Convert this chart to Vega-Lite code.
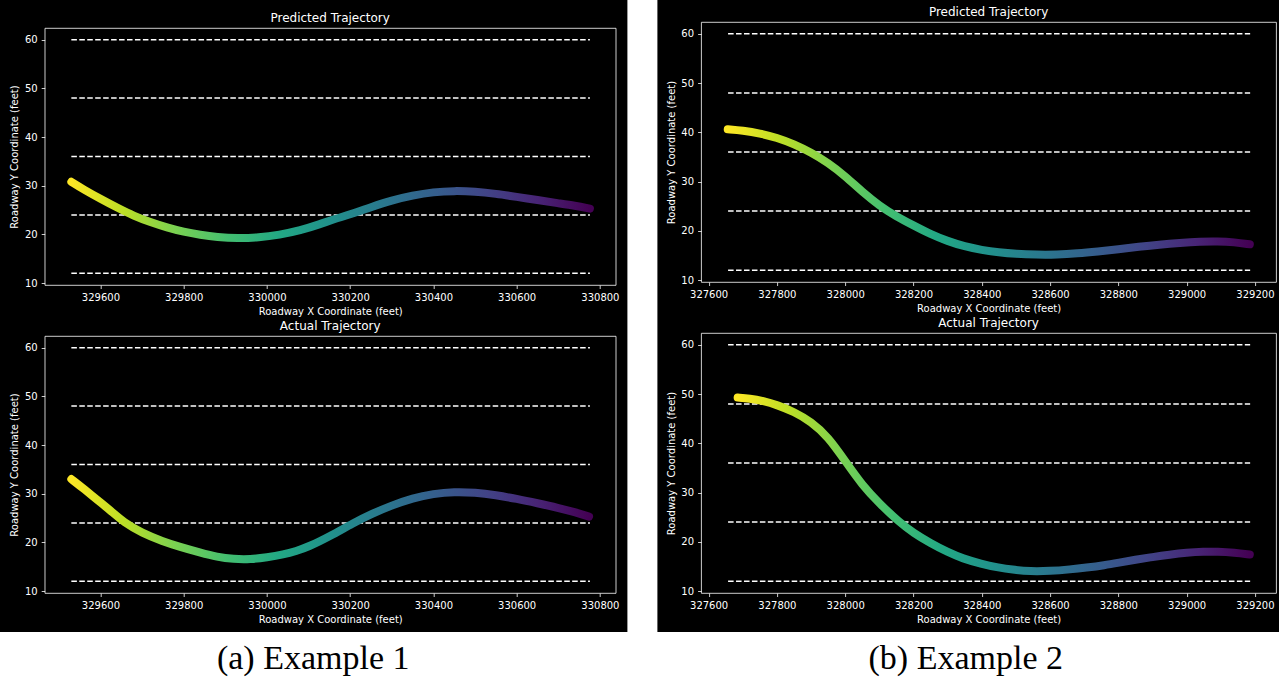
{
  "$schema": "https://vega.github.io/schema/vega-lite/v6.json",
  "background": "black",
  "padding": 0,
  "config": {
    "view": {"stroke": "white", "strokeWidth": 0.8},
    "axis": {"domain": false, "tickColor": "white", "tickWidth": 0.8, "tickSize": 3.5, "labelColor": "white", "labelFont": "DejaVu Sans", "labelFontSize": 10, "labelPadding": 4, "titleColor": "white", "titleFont": "DejaVu Sans", "titleFontSize": 10, "titleFontWeight": "normal", "grid": false, "labelFlush": false, "labelOverlap": false},
    "axisX": {"titlePadding": 4},
    "title": {"color": "white", "font": "DejaVu Sans", "fontSize": 12, "fontWeight": "normal", "offset": 3, "anchor": "middle"}
  },
  "datasets": {
    "lanesA": [
      {"x": 329530, "x2": 330776, "y": 12},
      {"x": 329530, "x2": 330776, "y": 24},
      {"x": 329530, "x2": 330776, "y": 36},
      {"x": 329530, "x2": 330776, "y": 48},
      {"x": 329530, "x2": 330776, "y": 60}
    ],
    "lanesB": [
      {"x": 327657, "x2": 329186, "y": 12},
      {"x": 327657, "x2": 329186, "y": 24},
      {"x": 327657, "x2": 329186, "y": 36},
      {"x": 327657, "x2": 329186, "y": 48},
      {"x": 327657, "x2": 329186, "y": 60}
    ],
    "predA": [
      {"x": 329530, "y": 30.8}, {"x": 329560, "y": 29.2}, {"x": 329600, "y": 27.3}, {"x": 329640, "y": 25.5},
      {"x": 329680, "y": 23.8}, {"x": 329720, "y": 22.5}, {"x": 329760, "y": 21.4}, {"x": 329800, "y": 20.5},
      {"x": 329840, "y": 19.9}, {"x": 329880, "y": 19.45}, {"x": 329930, "y": 19.2}, {"x": 329980, "y": 19.35},
      {"x": 330030, "y": 19.9}, {"x": 330080, "y": 20.8}, {"x": 330128, "y": 22.1}, {"x": 330160, "y": 23.1},
      {"x": 330200, "y": 24.1}, {"x": 330250, "y": 25.6}, {"x": 330300, "y": 27.0}, {"x": 330350, "y": 28.0},
      {"x": 330400, "y": 28.7}, {"x": 330450, "y": 28.95}, {"x": 330500, "y": 28.8}, {"x": 330550, "y": 28.35},
      {"x": 330600, "y": 27.7}, {"x": 330650, "y": 27.05}, {"x": 330700, "y": 26.4}, {"x": 330740, "y": 25.9},
      {"x": 330776, "y": 25.3}
    ],
    "actA": [
      {"x": 329530, "y": 33.0}, {"x": 329560, "y": 31.0}, {"x": 329600, "y": 28.2}, {"x": 329630, "y": 26.1},
      {"x": 329655, "y": 24.2}, {"x": 329700, "y": 21.9}, {"x": 329750, "y": 20.2}, {"x": 329790, "y": 19.1},
      {"x": 329840, "y": 17.9}, {"x": 329880, "y": 17.0}, {"x": 329920, "y": 16.55}, {"x": 329960, "y": 16.5},
      {"x": 330000, "y": 16.9}, {"x": 330040, "y": 17.5}, {"x": 330070, "y": 18.2}, {"x": 330100, "y": 19.1},
      {"x": 330150, "y": 21.2}, {"x": 330208, "y": 24.0}, {"x": 330250, "y": 25.8}, {"x": 330300, "y": 27.6},
      {"x": 330350, "y": 29.1}, {"x": 330400, "y": 30.0}, {"x": 330450, "y": 30.4}, {"x": 330500, "y": 30.25},
      {"x": 330550, "y": 29.7}, {"x": 330600, "y": 28.95}, {"x": 330650, "y": 28.05}, {"x": 330700, "y": 27.1},
      {"x": 330740, "y": 26.2}, {"x": 330774, "y": 25.3}
    ],
    "predB": [
      {"x": 327656, "y": 40.6}, {"x": 327700, "y": 40.35}, {"x": 327750, "y": 39.8}, {"x": 327800, "y": 38.9},
      {"x": 327850, "y": 37.6}, {"x": 327900, "y": 35.9}, {"x": 327950, "y": 33.8}, {"x": 328000, "y": 31.1},
      {"x": 328050, "y": 27.9}, {"x": 328100, "y": 25.1}, {"x": 328150, "y": 22.9}, {"x": 328200, "y": 21.1},
      {"x": 328250, "y": 19.3}, {"x": 328300, "y": 17.9}, {"x": 328350, "y": 16.8}, {"x": 328400, "y": 16.1},
      {"x": 328450, "y": 15.6}, {"x": 328500, "y": 15.3}, {"x": 328560, "y": 15.15}, {"x": 328620, "y": 15.15},
      {"x": 328680, "y": 15.4}, {"x": 328740, "y": 15.8}, {"x": 328800, "y": 16.25}, {"x": 328860, "y": 16.75},
      {"x": 328920, "y": 17.2}, {"x": 328980, "y": 17.55}, {"x": 329040, "y": 17.8}, {"x": 329090, "y": 17.85},
      {"x": 329140, "y": 17.7}, {"x": 329185, "y": 17.25}
    ],
    "actB": [
      {"x": 327685, "y": 49.3}, {"x": 327720, "y": 49.1}, {"x": 327760, "y": 48.6}, {"x": 327800, "y": 47.8},
      {"x": 327850, "y": 46.4}, {"x": 327900, "y": 44.4}, {"x": 327950, "y": 41.3}, {"x": 328000, "y": 36.4},
      {"x": 328050, "y": 31.5}, {"x": 328100, "y": 27.8}, {"x": 328158, "y": 24.0}, {"x": 328200, "y": 21.8},
      {"x": 328250, "y": 19.7}, {"x": 328300, "y": 17.9}, {"x": 328344, "y": 16.6}, {"x": 328400, "y": 15.5},
      {"x": 328441, "y": 14.85}, {"x": 328500, "y": 14.25}, {"x": 328540, "y": 14.0}, {"x": 328600, "y": 14.05},
      {"x": 328660, "y": 14.4}, {"x": 328705, "y": 14.75}, {"x": 328760, "y": 15.25}, {"x": 328801, "y": 15.75},
      {"x": 328850, "y": 16.35}, {"x": 328900, "y": 16.9}, {"x": 328950, "y": 17.4}, {"x": 329000, "y": 17.8},
      {"x": 329050, "y": 18.0}, {"x": 329090, "y": 18.0}, {"x": 329140, "y": 17.8}, {"x": 329185, "y": 17.4}
    ],
    "captions": [
      {"label": "(a) Example 1"},
      {"label": "(b) Example 2"}
    ]
  },
  "spacing": 0,
  "vconcat": [
    {
      "spacing": 7.7,
      "hconcat": [
        {"width": 1, "height": 1, "view": {"fill": "black", "stroke": null}, "data": {"values": []}, "mark": "point"},
        {
          "spacing": 2,
          "vconcat": [
            {"width": 10, "height": 9, "view": {"fill": "black", "stroke": null}, "data": {"values": []}, "mark": "point"},
            {
              "width": 571, "height": 257,
              "title": "Predicted Trajectory",
              "encoding": {
                "x": {"field": "x", "type": "quantitative", "scale": {"domain": [329466, 330838], "nice": false, "zero": false}, "axis": {"title": "Roadway X Coordinate (feet)", "values": [329600, 329800, 330000, 330200, 330400, 330600, 330800], "format": "d"}},
                "y": {"field": "y", "type": "quantitative", "scale": {"domain": [9.6, 62.4], "nice": false, "zero": false}, "axis": {"title": "Roadway Y Coordinate (feet)", "values": [10, 20, 30, 40, 50, 60], "format": "d", "titlePadding": 5.1}}
              },
              "layer": [
                {"data": {"name": "lanesA"}, "mark": {"type": "rule", "color": "white", "strokeWidth": 1.5, "strokeDash": [5.55, 2.4]}, "encoding": {"x2": {"field": "x2"}}},
                {"data": {"name": "predA"}, "mark": {"type": "line", "strokeWidth": 8, "strokeCap": "round", "strokeJoin": "round", "interpolate": "basis",
                  "color": {"gradient": "linear", "x1": 0, "y1": 0, "x2": 1, "y2": 0, "stops": [
                    {"offset": 0, "color": "#fde725"}, {"offset": 0.1, "color": "#bddf26"}, {"offset": 0.2, "color": "#7ad151"}, {"offset": 0.3, "color": "#44bf70"}, {"offset": 0.4, "color": "#22a884"}, {"offset": 0.5, "color": "#21918c"}, {"offset": 0.6, "color": "#2a788e"}, {"offset": 0.7, "color": "#355f8d"}, {"offset": 0.8, "color": "#414487"}, {"offset": 0.9, "color": "#482475"}, {"offset": 1, "color": "#440154"}]}}}
              ]
            },
            {
              "width": 571, "height": 257,
              "title": "Actual Trajectory",
              "encoding": {
                "x": {"field": "x", "type": "quantitative", "scale": {"domain": [329466, 330838], "nice": false, "zero": false}, "axis": {"title": "Roadway X Coordinate (feet)", "values": [329600, 329800, 330000, 330200, 330400, 330600, 330800], "format": "d"}},
                "y": {"field": "y", "type": "quantitative", "scale": {"domain": [9.6, 62.4], "nice": false, "zero": false}, "axis": {"title": "Roadway Y Coordinate (feet)", "values": [10, 20, 30, 40, 50, 60], "format": "d", "titlePadding": 5.1}}
              },
              "layer": [
                {"data": {"name": "lanesA"}, "mark": {"type": "rule", "color": "white", "strokeWidth": 1.5, "strokeDash": [5.55, 2.4]}, "encoding": {"x2": {"field": "x2"}}},
                {"data": {"name": "actA"}, "mark": {"type": "line", "strokeWidth": 8, "strokeCap": "round", "strokeJoin": "round", "interpolate": "basis",
                  "color": {"gradient": "linear", "x1": 0, "y1": 0, "x2": 1, "y2": 0, "stops": [
                    {"offset": 0, "color": "#fde725"}, {"offset": 0.1, "color": "#bddf26"}, {"offset": 0.2, "color": "#7ad151"}, {"offset": 0.3, "color": "#44bf70"}, {"offset": 0.4, "color": "#22a884"}, {"offset": 0.5, "color": "#21918c"}, {"offset": 0.6, "color": "#2a788e"}, {"offset": 0.7, "color": "#355f8d"}, {"offset": 0.8, "color": "#414487"}, {"offset": 0.9, "color": "#482475"}, {"offset": 1, "color": "#440154"}]}}}
              ]
            }
          ]
        },
        {"width": 30, "height": 632, "view": {"fill": "white", "stroke": null}, "data": {"values": []}, "mark": "point"},
        {
          "spacing": 2,
          "vconcat": [
            {"width": 10, "height": 3, "view": {"fill": "black", "stroke": null}, "data": {"values": []}, "mark": "point"},
            {
              "width": 575, "height": 260,
              "title": "Predicted Trajectory",
              "encoding": {
                "x": {"field": "x", "type": "quantitative", "scale": {"domain": [327578, 329262], "nice": false, "zero": false}, "axis": {"title": "Roadway X Coordinate (feet)", "values": [327600, 327800, 328000, 328200, 328400, 328600, 328800, 329000, 329200], "format": "d"}},
                "y": {"field": "y", "type": "quantitative", "scale": {"domain": [9.6, 62.4], "nice": false, "zero": false}, "axis": {"title": "Roadway Y Coordinate (feet)", "values": [10, 20, 30, 40, 50, 60], "format": "d", "titlePadding": 4.4}}
              },
              "layer": [
                {"data": {"name": "lanesB"}, "mark": {"type": "rule", "color": "white", "strokeWidth": 1.5, "strokeDash": [5.55, 2.4]}, "encoding": {"x2": {"field": "x2"}}},
                {"data": {"name": "predB"}, "mark": {"type": "line", "strokeWidth": 8, "strokeCap": "round", "strokeJoin": "round", "interpolate": "basis",
                  "color": {"gradient": "linear", "x1": 0, "y1": 0, "x2": 1, "y2": 0, "stops": [
                    {"offset": 0, "color": "#fde725"}, {"offset": 0.1, "color": "#bddf26"}, {"offset": 0.2, "color": "#7ad151"}, {"offset": 0.3, "color": "#44bf70"}, {"offset": 0.4, "color": "#22a884"}, {"offset": 0.5, "color": "#21918c"}, {"offset": 0.6, "color": "#2a788e"}, {"offset": 0.7, "color": "#355f8d"}, {"offset": 0.8, "color": "#414487"}, {"offset": 0.9, "color": "#482475"}, {"offset": 1, "color": "#440154"}]}}}
              ]
            },
            {
              "width": 575, "height": 260,
              "title": "Actual Trajectory",
              "encoding": {
                "x": {"field": "x", "type": "quantitative", "scale": {"domain": [327578, 329262], "nice": false, "zero": false}, "axis": {"title": "Roadway X Coordinate (feet)", "values": [327600, 327800, 328000, 328200, 328400, 328600, 328800, 329000, 329200], "format": "d"}},
                "y": {"field": "y", "type": "quantitative", "scale": {"domain": [9.6, 62.4], "nice": false, "zero": false}, "axis": {"title": "Roadway Y Coordinate (feet)", "values": [10, 20, 30, 40, 50, 60], "format": "d", "titlePadding": 4.4}}
              },
              "layer": [
                {"data": {"name": "lanesB"}, "mark": {"type": "rule", "color": "white", "strokeWidth": 1.5, "strokeDash": [5.55, 2.4]}, "encoding": {"x2": {"field": "x2"}}},
                {"data": {"name": "actB"}, "mark": {"type": "line", "strokeWidth": 8, "strokeCap": "round", "strokeJoin": "round", "interpolate": "basis",
                  "color": {"gradient": "linear", "x1": 0, "y1": 0, "x2": 1, "y2": 0, "stops": [
                    {"offset": 0, "color": "#fde725"}, {"offset": 0.1, "color": "#bddf26"}, {"offset": 0.2, "color": "#7ad151"}, {"offset": 0.3, "color": "#44bf70"}, {"offset": 0.4, "color": "#22a884"}, {"offset": 0.5, "color": "#21918c"}, {"offset": 0.6, "color": "#2a788e"}, {"offset": 0.7, "color": "#355f8d"}, {"offset": 0.8, "color": "#414487"}, {"offset": 0.9, "color": "#482475"}, {"offset": 1, "color": "#440154"}]}}}
              ]
            }
          ]
        }
      ]
    },
    {
      "width": 1279, "height": 47,
      "view": {"fill": "white", "stroke": null},
      "data": {"name": "captions"},
      "mark": {"type": "text", "font": "Liberation Serif", "fontSize": 34, "color": "black", "baseline": "alphabetic", "align": "center", "dy": 13},
      "encoding": {
        "x": {"field": "label", "type": "nominal", "scale": {"type": "point", "padding": 0.48}, "axis": null},
        "text": {"field": "label"}
      }
    }
  ]
}
